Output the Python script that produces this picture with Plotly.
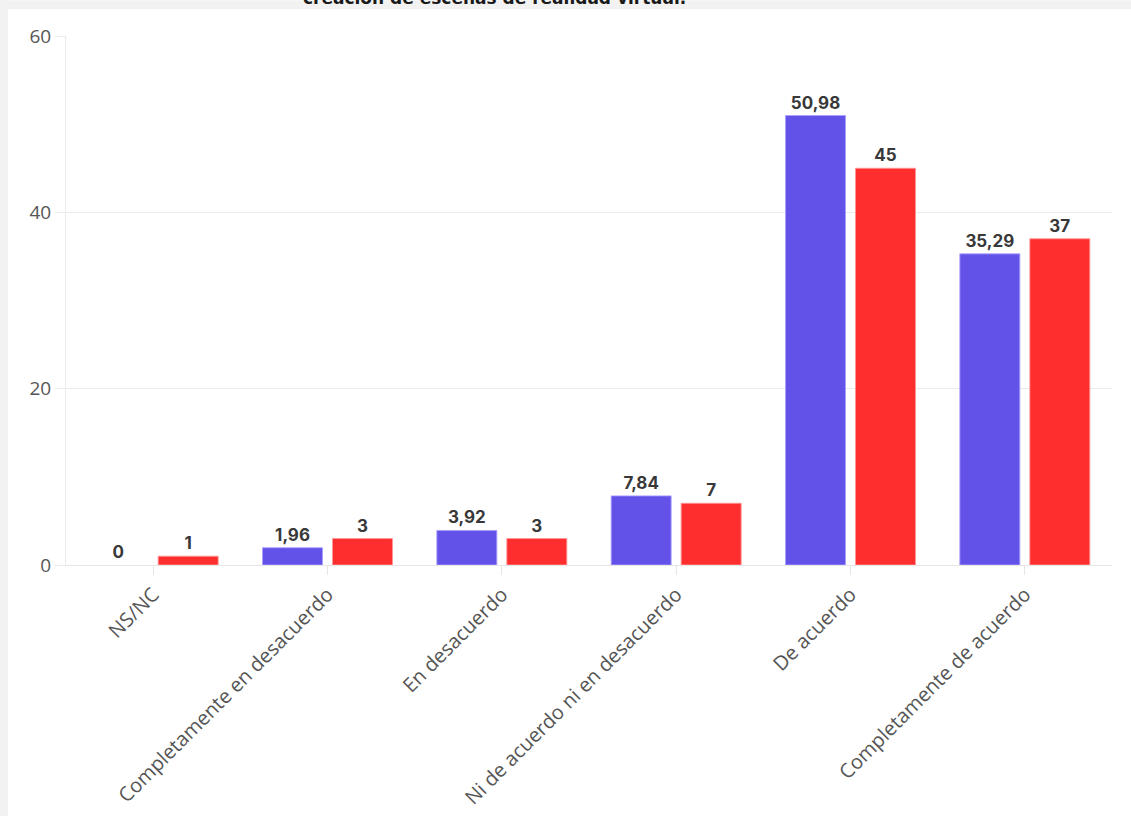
import plotly.graph_objects as go

categories = ["NS/NC", "Completamente en desacuerdo", "En desacuerdo",
              "Ni de acuerdo ni en desacuerdo", "De acuerdo", "Completamente de acuerdo"]
serie_a = [0, 1.96, 3.92, 7.84, 50.98, 35.29]
serie_b = [1, 3, 3, 7, 45, 37]
y_ticks = [0, 20, 40, 60]
title_text = "creación de escenas de realidad virtual."

def fmt(v):
    s = ("%g" % v)
    return s.replace(".", ",")

label_font = dict(family="Inter", size=17, color="#383838", weight="bold")

fig = go.Figure()
fig.add_trace(go.Bar(
    x=categories, y=serie_a, name="Serie A",
    marker=dict(color="#6352E8",
                line=dict(color="rgba(170,160,255,0.9)",
                          width=[0 if v == 0 else 1 for v in serie_a])),
    text=[fmt(v) for v in serie_a], textposition="outside",
    textfont=label_font, cliponaxis=False,
))
fig.add_trace(go.Bar(
    x=categories, y=serie_b, name="Serie B",
    marker=dict(color="#FF2E2E",
                line=dict(color="rgba(255,150,150,0.9)",
                          width=[0 if v == 0 else 1 for v in serie_b])),
    text=[fmt(v) for v in serie_b], textposition="outside",
    textfont=label_font, cliponaxis=False,
))

L, R, T, B = 66, 19, 36, 253
W, H = 1131, 822
pw, ph = W - L - R, H - T - B

def px_x(p):
    return (p - L) / pw

def px_y(p):
    return (H - B - p) / ph

shapes = [
    dict(type="rect", xref="paper", yref="paper", x0=px_x(0), x1=px_x(W), y0=px_y(9), y1=px_y(0),
         fillcolor="#F2F2F2", line=dict(width=0), layer="below"),
    dict(type="rect", xref="paper", yref="paper", x0=px_x(0), x1=px_x(8), y0=px_y(H), y1=px_y(0),
         fillcolor="#F2F2F2", line=dict(width=0), layer="below"),
]

fig.update_layout(
    width=W, height=H,
    margin=dict(l=L, r=R, t=T, b=B, pad=0),
    paper_bgcolor="white", plot_bgcolor="rgba(0,0,0,0)",
    barmode="group", bargap=0.197, bargroupgap=0.143,
    showlegend=False,
    separators=",.",
    shapes=shapes,
    font=dict(family="Open Sans", color="#444444"),
    annotations=[dict(
        text="<b>" + title_text + "</b>", xref="paper", yref="paper",
        x=px_x(494), y=px_y(10), xanchor="center", yanchor="bottom",
        showarrow=False, font=dict(family="DejaVu Sans", size=17, color="#1a1a1a"),
    )],
)
fig.update_xaxes(
    tickangle=-45, tickfont=dict(family="Open Sans", size=20, color="#555555"),
    ticks="outside", ticklen=9, tickcolor="#E6E6E6", tickwidth=1,
    showline=True, linecolor="#E6E6E6", linewidth=1,
    showgrid=False,
)
fig.update_yaxes(
    range=[0, 60], tickvals=y_ticks,
    tickfont=dict(family="Open Sans", size=19, color="#555555"),
    showgrid=True, gridcolor="#EBEBEB", gridwidth=1,
    zeroline=True, zerolinecolor="#E6E6E6", zerolinewidth=1,
    showline=True, linecolor="#EBEBEB", linewidth=1,
    ticks="outside", ticklen=10, tickcolor="#EBEBEB",
)

fig.write_html("out.html")
